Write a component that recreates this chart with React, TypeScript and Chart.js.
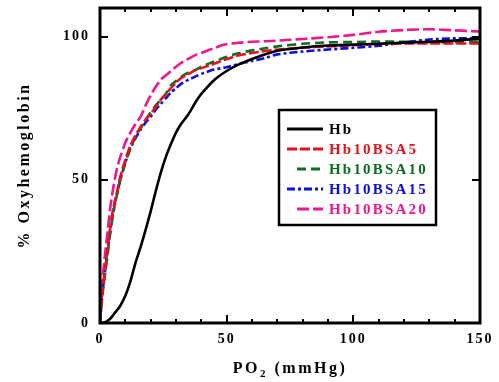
import { useEffect, useRef } from "react";
import { Chart, registerables } from "chart.js";

Chart.register(...registerables);

const FONT = "'Liberation Serif', 'Times New Roman', Times, serif";

// PO2 (mmHg) sample points
const PO2 = [0, 1, 2, 3, 4, 5, 6, 7, 8, 10, 12, 14, 16, 18, 20, 22, 24, 26, 28, 30, 32, 35, 38, 40, 45, 50, 55, 60, 65, 70, 80, 90, 100, 110, 120, 130, 140, 150];

// % Oxyhemoglobin for each sample
const HB = [0, 0.1, 0.3, 0.8, 1.5, 2.5, 3.7, 4.8, 6, 9.5, 14.5, 21, 26.5, 32.5, 39, 46, 52.5, 58, 62.5, 66.5, 69.5, 73, 77.5, 80, 84.8, 88, 90.4, 92.2, 93.8, 95.1, 96.2, 96.9, 97.2, 97.5, 97.9, 98.2, 98.6, 99.3];
const HB10BSA5 = [0, 12, 19, 26, 33, 39, 43, 47, 51, 57, 62, 65.5, 68.5, 71, 73, 75.5, 78, 80, 82, 84, 85.5, 87, 88.5, 89, 90.5, 92.2, 93.5, 94.3, 95, 95.5, 96.1, 96.6, 97, 97.5, 97.6, 97.6, 97.6, 97.6];
const HB10BSA10 = [0, 10, 17, 24, 31, 37, 42, 46, 50, 56, 61, 65, 68, 71, 73.5, 76, 78, 80, 83, 84.5, 86, 87.5, 88.5, 89.5, 91.3, 93, 94.3, 95.2, 95.9, 96.6, 97.5, 98, 98.1, 98.3, 98.2, 98.1, 98.1, 98.2];
const HB10BSA15 = [0, 11, 18, 25, 32, 38, 42.5, 46, 50, 56, 61, 64.5, 67.5, 70, 72, 74.5, 76.5, 78.5, 80.5, 82, 83.5, 85, 86.2, 87, 88.5, 89.3, 90.5, 91.5, 92.5, 93.8, 94.8, 95.5, 96.1, 96.8, 98, 99, 99.4, 99.5];
const HB10BSA20 = [0, 15, 24, 32, 40, 46, 51, 55, 58, 63, 66.5, 69.5, 72, 76, 79.5, 82.5, 85, 86.5, 88, 89.5, 90.8, 92.3, 93.7, 94.3, 96, 97.4, 97.9, 98.2, 98.4, 98.6, 99.2, 99.8, 100.6, 101.7, 102.3, 102.6, 102.2, 101.8];

const SERIES_NAMES = ["Hb", "Hb10BSA5", "Hb10BSA10", "Hb10BSA15", "Hb10BSA20"];
const SERIES_VALUES = [HB, HB10BSA5, HB10BSA10, HB10BSA15, HB10BSA20];

const X_TICKS = [0, 50, 100, 150];
const Y_TICKS = [0, 50, 100];
const X_MINOR_STEP = 10;

const X_TITLE_MAIN = "PO";
const X_TITLE_SUB = "2";
const X_TITLE_REST = " (mmHg)";
const Y_TITLE = "% Oxyhemoglobin";

const COLORS = ["#000000", "#e8101a", "#0b6e20", "#0c0ce6", "#f0168c"];
const DASHES: number[][] = [[], [10, 3], [9, 5], [8, 3, 3, 3], [12, 4]];
const LEGEND_LINE_START = [287, 287, 297, 287, 297];

const framePlugin = {
  id: "frame",
  beforeDraw(chart: any) {
    (chart.ctx as any).letterSpacing = "2px";
  },
  afterDraw(chart: any) {
    const ctx = chart.ctx as CanvasRenderingContext2D & { letterSpacing: string };
    const { left, right, top, bottom } = chart.chartArea;
    const xs = chart.scales.x;
    const ys = chart.scales.y;
    ctx.save();
    ctx.letterSpacing = "0px";
    ctx.strokeStyle = "#000";
    ctx.setLineDash([]);
    // ticks
    ctx.lineWidth = 2;
    ctx.beginPath();
    for (let v = X_MINOR_STEP; v < 150; v += X_MINOR_STEP) {
      const px = Math.round(xs.getPixelForValue(v));
      const len = X_TICKS.includes(v) ? 8 : 4;
      ctx.moveTo(px, bottom);
      ctx.lineTo(px, bottom - len);
      ctx.moveTo(px, top);
      ctx.lineTo(px, top + len);
    }
    for (const v of Y_TICKS) {
      if (v === 0) continue;
      const py = Math.round(ys.getPixelForValue(v));
      ctx.moveTo(left, py);
      ctx.lineTo(left + 8, py);
      ctx.moveTo(right, py);
      ctx.lineTo(right - 8, py);
    }
    ctx.stroke();
    // frame
    ctx.lineWidth = 3;
    ctx.strokeRect(left, top, right - left, bottom - top);

    // x title
    ctx.fillStyle = "#000";
    ctx.textBaseline = "alphabetic";
    ctx.textAlign = "left";
    const mainFont = `bold 16px ${FONT}`;
    const subFont = `bold 11px ${FONT}`;
    ctx.letterSpacing = "2.5px";
    ctx.font = mainFont;
    const w1 = ctx.measureText(X_TITLE_MAIN).width;
    const w3 = ctx.measureText(X_TITLE_REST).width;
    ctx.font = subFont;
    const w2 = ctx.measureText(X_TITLE_SUB).width;
    const total = w1 + w2 + w3;
    const x0 = (left + right) / 2 - total / 2;
    const base = 373;
    ctx.font = mainFont;
    ctx.fillText(X_TITLE_MAIN, x0, base);
    ctx.font = subFont;
    ctx.fillText(X_TITLE_SUB, x0 + w1, base + 4);
    ctx.font = mainFont;
    ctx.fillText(X_TITLE_REST, x0 + w1 + w2, base);

    // y title
    ctx.save();
    ctx.translate(25, (top + bottom) / 2);
    ctx.rotate(-Math.PI / 2);
    ctx.textAlign = "center";
    ctx.textBaseline = "middle";
    ctx.font = mainFont;
    ctx.fillText(Y_TITLE, 0, 0);
    ctx.restore();

    // legend
    ctx.lineWidth = 2.5;
    ctx.strokeRect(279, 110, 157, 115);
    ctx.font = `bold 15px ${FONT}`;
    ctx.letterSpacing = "2.2px";
    ctx.textBaseline = "middle";
    ctx.textAlign = "left";
    chart.data.datasets.forEach((ds: any, i: number) => {
      const y = 129 + i * 20;
      ctx.strokeStyle = ds.borderColor;
      ctx.lineWidth = 3;
      ctx.setLineDash(ds.borderDash || []);
      ctx.beginPath();
      ctx.moveTo(LEGEND_LINE_START[i], y);
      ctx.lineTo(323, y);
      ctx.stroke();
      ctx.setLineDash([]);
      ctx.fillStyle = ds.borderColor;
      ctx.fillText(ds.label, 329, y + 1);
    });
    ctx.restore();
  },
};

export default function App() {
  const ref = useRef<HTMLCanvasElement | null>(null);
  useEffect(() => {
    if (!ref.current) return;
    const datasets = SERIES_NAMES.map((name, i) => ({
      label: name,
      data: PO2.map((x, j) => ({ x, y: SERIES_VALUES[i][j] })),
      borderColor: COLORS[i],
      backgroundColor: COLORS[i],
      borderWidth: 2.6,
      borderDash: DASHES[i],
      pointRadius: 0,
      tension: 0.2,
      fill: false,
    }));
    const tickFont = { family: FONT, size: 14, weight: "bold" as const };
    const chart = new Chart(ref.current, {
      type: "line",
      data: { datasets },
      plugins: [framePlugin],
      options: {
        animation: false,
        responsive: false,
        devicePixelRatio: 1,
        layout: { padding: { top: 8, right: 19, left: 0, bottom: 0 } },
        plugins: { legend: { display: false }, tooltip: { enabled: false } },
        scales: {
          x: {
            type: "linear",
            min: 0,
            max: 150,
            grid: { display: false, drawTicks: false },
            border: { display: false },
            afterBuildTicks: (s: any) => {
              s.ticks = X_TICKS.map((v) => ({ value: v }));
            },
            afterFit: (s: any) => {
              s.height = 59;
              s.paddingLeft = 0;
              s.paddingRight = 0;
            },
            ticks: { font: tickFont, color: "#000", padding: 8, maxRotation: 0, autoSkip: false },
          },
          y: {
            type: "linear",
            min: 0,
            max: 110,
            grid: { display: false, drawTicks: false },
            border: { display: false },
            afterBuildTicks: (s: any) => {
              s.ticks = Y_TICKS.map((v) => ({ value: v }));
            },
            afterFit: (s: any) => {
              s.width = 100;
              s.paddingTop = 0;
              s.paddingBottom = 0;
            },
            ticks: { font: tickFont, color: "#000", padding: 10, autoSkip: false },
          },
        },
      },
    });
    return () => chart.destroy();
  }, []);
  return (
    <div style={{ position: "absolute", left: 0, top: 0, width: 499, height: 382, background: "#fff" }}>
      <canvas ref={ref} width={499} height={382} />
    </div>
  );
}
